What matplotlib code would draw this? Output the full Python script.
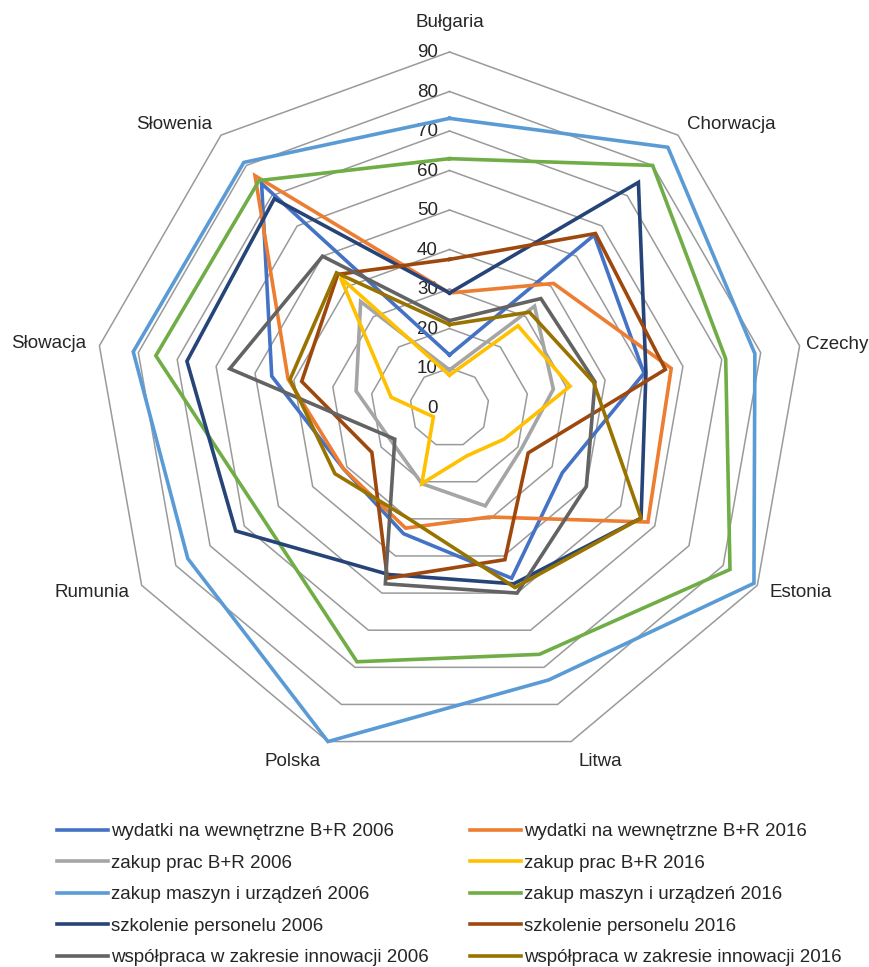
import numpy as np
import matplotlib
matplotlib.use("Agg")
import matplotlib.pyplot as plt

plt.rcParams['font.family'] = ['Liberation Sans', 'DejaVu Sans']

# data
countries = ["Bułgaria", "Chorwacja", "Czechy", "Estonia", "Litwa",
             "Polska", "Rumunia", "Słowacja", "Słowenia"]

wydatki_2006 = [13.3, 57, 50, 33, 46, 34, 31, 45.7, 74]
wydatki_2016 = [29, 41, 57, 58, 29.5, 32.5, 31, 41.5, 76.6]
prace_2006 = [9.5, 33.5, 26.7, 21, 26.5, 20.5, 17, 24, 35]
prace_2016 = [8.2, 27, 31, 16, 13, 20.5, 4.7, 15, 43]
maszyny_2006 = [73.2, 86, 78.5, 89, 73.4, 90, 76.5, 81.3, 81]
maszyny_2016 = [63, 80, 71, 82, 66.5, 68.5, 55, 75.5, 75]
szkolenie_2006 = [29, 74.4, 50.5, 56, 47.5, 45, 62.5, 67.5, 69]
szkolenie_2016 = [37.5, 57.5, 55.5, 23, 41, 46, 22.7, 38, 44]
wspolpraca_2006 = [22, 36, 37.4, 40, 50, 47.5, 16, 56.5, 50]
wspolpraca_2016 = [21, 31.5, 37, 56, 48.5, 30, 33.5, 41, 44.5]

series_names = ["wydatki na wewnętrzne B+R 2006", "wydatki na wewnętrzne B+R 2016",
                "zakup prac B+R 2006", "zakup prac B+R 2016",
                "zakup maszyn i urządzeń 2006", "zakup maszyn i urządzeń 2016",
                "szkolenie personelu 2006", "szkolenie personelu 2016",
                "współpraca w zakresie innowacji 2006", "współpraca w zakresie innowacji 2016"]
series_values = [wydatki_2006, wydatki_2016, prace_2006, prace_2016,
                 maszyny_2006, maszyny_2016, szkolenie_2006, szkolenie_2016,
                 wspolpraca_2006, wspolpraca_2016]
colors = ["#4472C4", "#ED7D31", "#A5A5A5", "#FFC000", "#5B9BD5",
          "#70AD47", "#264478", "#9E480E", "#636363", "#997300"]

rings = list(range(10, 100, 10))
ring_labels = [str(v) for v in range(0, 100, 10)]

txt_color = "#262626"
grid_color = "#9A9A9A"

fig = plt.figure(figsize=(8.7, 9.67), dpi=100)
ax = fig.add_axes([0.10805, 0.21096, 0.81724, 0.73526], projection='polar')
ax.set_theta_offset(np.pi / 2)
ax.set_theta_direction(-1)
ax.set_ylim(0, 90)
ax.set_axis_off()

n = len(countries)
theta = np.arange(n) * 2 * np.pi / n
theta_c = np.append(theta, theta[0])

# grid rings (straight-sided polygons)
for r in rings:
    ax.plot(theta_c, [r] * (n + 1), color=grid_color, lw=1.1, zorder=1, clip_on=False)

# radial labels
for i, lab in enumerate(ring_labels):
    ax.annotate(lab, xy=(0, i * 10), xytext=(-8.3, -0.7), textcoords='offset points',
                ha='right', va='center', fontsize=13.5, color=txt_color)

# series
handles = []
for name, vals, c in zip(series_names, series_values, colors):
    v = np.append(vals, vals[0])
    h, = ax.plot(theta_c, v, color=c, lw=2.6, label=name, zorder=3,
                 solid_joinstyle='miter', clip_on=False)
    handles.append(h)

# category labels
for t, lab in zip(theta, countries):
    s = np.sin(t)
    if abs(s) < 0.1:
        ha, r = 'center', 97.5
    elif s > 0:
        ha, r = 'left', 93.5
    else:
        ha, r = 'right', 93.5
    if np.cos(t) < -0.9:
        r = 95.5
    if lab == "Czechy":
        r = 91.6
    ax.text(t, r, lab, ha=ha, va='center', fontsize=13.5, color=txt_color)

# legend: 2006 in first column, 2016 in second
order = [0, 2, 4, 6, 8, 1, 3, 5, 7, 9]
fig.legend([handles[i] for i in order], [series_names[i] for i in order],
           loc='upper left', bbox_to_anchor=(57 / 870, 1 - 823 / 967),
           ncol=2, frameon=False, fontsize=13.5, handlelength=2.72,
           handletextpad=0.16, columnspacing=2.18, labelspacing=0.77,
           borderpad=0, borderaxespad=0, labelcolor=txt_color)

fig.savefig("out.png", dpi=100)
